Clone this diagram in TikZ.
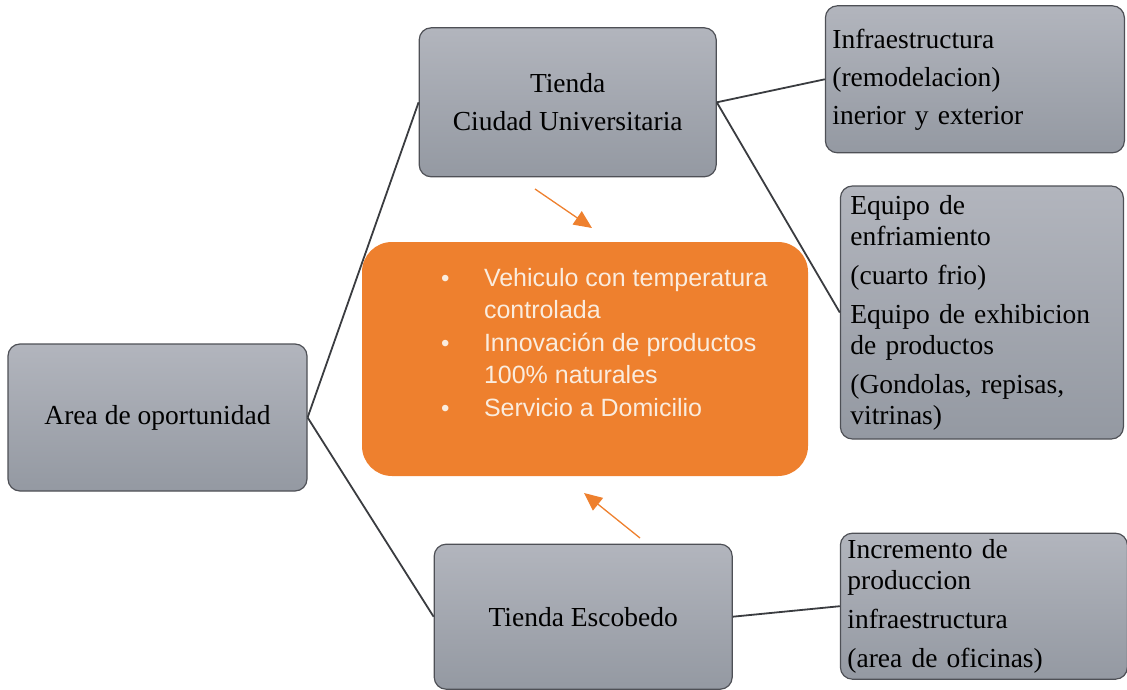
\documentclass[tikz,border=0pt]{standalone}
\usepackage{fontspec}
\setmainfont{Liberation Serif}
\newfontfamily\arialfont{Liberation Sans}
\usetikzlibrary{positioning,arrows.meta}

\definecolor{boxtop}{RGB}{178,181,189}
\definecolor{boxbottom}{RGB}{148,153,162}
\definecolor{boxline}{RGB}{78,80,86}
\definecolor{offerorange}{RGB}{238,128,46}
\definecolor{offertext}{RGB}{250,236,222}
\definecolor{linkgray}{RGB}{58,60,64}

\newcommand{\bulletsign}{\makebox[43pt][l]{{\fontsize{24}{24}\selectfont\textbullet}}}

\tikzset{
    graybox/.style={draw=boxline,line width=1.2pt,rounded corners=12pt,
        top color=boxtop,bottom color=boxbottom,inner sep=0pt,
        font=\fontsize{27.5}{31}\selectfont},
    listbox/.style={graybox,align=left,inner xsep=7pt},
    link/.style={draw=linkgray,line width=1.8pt},
    hint/.style={draw=offerorange,line width=1.3pt,-{Triangle[length=18pt,width=16pt]}}
}

\begin{document}
\begin{tikzpicture}[x=1pt,y=-1pt]
\useasboundingbox (0,0) rectangle (1127,690);

\node[graybox,minimum width=299pt,minimum height=147pt] (area) at (157.5,417.5) {Area de oportunidad};

\node[graybox,minimum width=297pt,minimum height=149pt,align=center,
    above right=166pt and 111pt of area] (cu) {Tienda\\[7pt]Ciudad Universitaria};
\node[graybox,minimum width=298pt,minimum height=145pt,
    below right=52pt and 126pt of area] (escobedo) {Tienda Escobedo};

\node[listbox,text width=285pt,minimum height=147pt,
    right=108pt of cu,yshift=23pt] (infra)
    {Infraestructura\\[7pt](remodelacion)\\[7pt]inerior y exterior};
\node[listbox,inner xsep=10pt,text width=263pt,minimum height=253pt,
    below right=8pt and 123pt of cu] (equipo)
    {Equipo de\\enfriamiento\\[8pt](cuarto frio)\\[8pt]Equipo de exhibicion\\de productos\\[8pt](Gondolas, repisas,\\vitrinas)};
\node[listbox,text width=273pt,minimum height=146pt,
    right=107pt of escobedo,yshift=10.5pt] (incremento)
    {Incremento de\\produccion\\[8pt]infraestructura\\[8pt](area de oficinas)};

\draw[link] (area.east) -- (cu.west);
\draw[link] (area.east) -- (escobedo.west);
\draw[link] (cu.east) -- (infra.west);
\draw[link] (cu.east) -- (equipo.west);
\draw[link] (escobedo.east) -- (incremento.west);

% propuesta central
\node[fill=offerorange,rounded corners=30pt,minimum width=446pt,minimum height=234pt] (offer) at (585,359) {};
\node[anchor=north west,inner sep=0pt,align=left,text=offertext,
    font=\arialfont\fontsize{25}{32.5}\selectfont,
    below right=26pt and 79pt of offer.north west] (offerlist)
    {\bulletsign Vehiculo con temperatura\\
     \hspace*{43pt}controlada\\
     \bulletsign Innovación de productos\\
     \hspace*{43pt}100\% naturales\\
     \bulletsign Servicio a Domicilio};

\coordinate (hintA) at (535,189);
\coordinate (tipA) at (592,228);
\coordinate (hintB) at (640,538);
\coordinate (tipB) at (584,493);
\draw[hint] (hintA) -- (tipA);
\draw[hint] (hintB) -- (tipB);

\end{tikzpicture}
\end{document}
